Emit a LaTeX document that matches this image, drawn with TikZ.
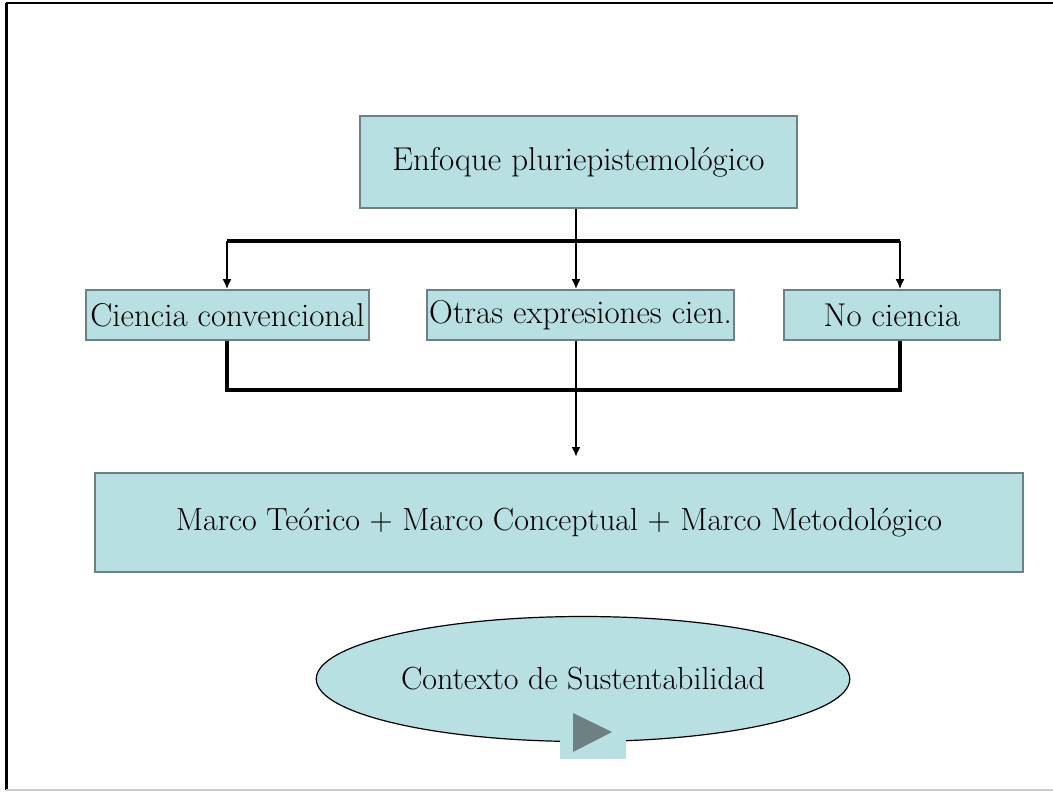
\documentclass[tikz,border=0pt]{standalone}
\usepackage{tikz}
\usetikzlibrary{arrows.meta,shapes.geometric}
\definecolor{boxfill}{RGB}{184,223,226}
\definecolor{boxline}{RGB}{110,128,130}
\definecolor{playgray}{RGB}{110,128,130}

\begin{document}
\begin{tikzpicture}[x=0.5pt,y=-0.5pt,
  box/.style={rectangle, draw=boxline, fill=boxfill, line width=0.8pt, inner sep=1pt, font=\fontsize{16.5}{19}\selectfont},
  bus/.style={line width=2pt},
  link/.style={line width=1pt, -{Latex[length=5pt,width=4.5pt]}}]
  \useasboundingbox (0,0) rectangle (1053,792);
  \draw[line width=1.5pt] (6,790) -- (6,3);
  \draw[line width=1.2pt] (6,3) -- (1053,3);
  \draw[black!20, line width=1pt] (6,790) -- (1053,790);

  \node (enfoque) [box, minimum width=218.5pt, minimum height=46pt] at (578.5,162) {Enfoque pluriepistemológico};
  \node (ciencia) [box, minimum width=141.5pt, minimum height=25pt] at (227.5,315) {Ciencia convencional};
  \node (otras) [box, minimum width=153.5pt, minimum height=25pt] at (580.5,315) {Otras expresiones cien.};
  \node (nociencia) [box, minimum width=108pt, minimum height=25pt] at (892,315) {No ciencia};
  \node (marco) [box, minimum width=464pt, minimum height=49.5pt, font=\fontsize{16}{19}\selectfont] at (559,522.5) {Marco Teórico + Marco Conceptual + Marco Metodológico};
  \node (contexto) [ellipse, draw, fill=boxfill, line width=0.6pt, minimum width=265.5pt, minimum height=62.5pt, font=\fontsize{16}{19}\selectfont] at (583,679) {Contexto de Sustentabilidad};

  \coordinate (split) at (576,241);
  \coordinate (leftbus) at (227,241);
  \coordinate (rightbus) at (900,241);
  \coordinate (join) at (576,390);
  \coordinate (marcotop) at (576,457);

  \draw[line width=1pt] (enfoque.south -| split) -- (split);
  \draw[bus] (leftbus) -- (rightbus);
  \draw[link] (leftbus) -- (leftbus |- ciencia.north);
  \draw[link] (split) -- (split |- otras.north);
  \draw[link] (rightbus) -- (rightbus |- nociencia.north);
  \draw[bus] (ciencia.south -| leftbus) |- (join) -| (nociencia.south -| rightbus);
  \draw[link] (otras.south -| split) -- (marcotop);

  \fill[boxfill] (560,730) rectangle (626,759);
  \fill[playgray] (573,713) -- (612,732) -- (573,752) -- cycle;
\end{tikzpicture}
\end{document}
